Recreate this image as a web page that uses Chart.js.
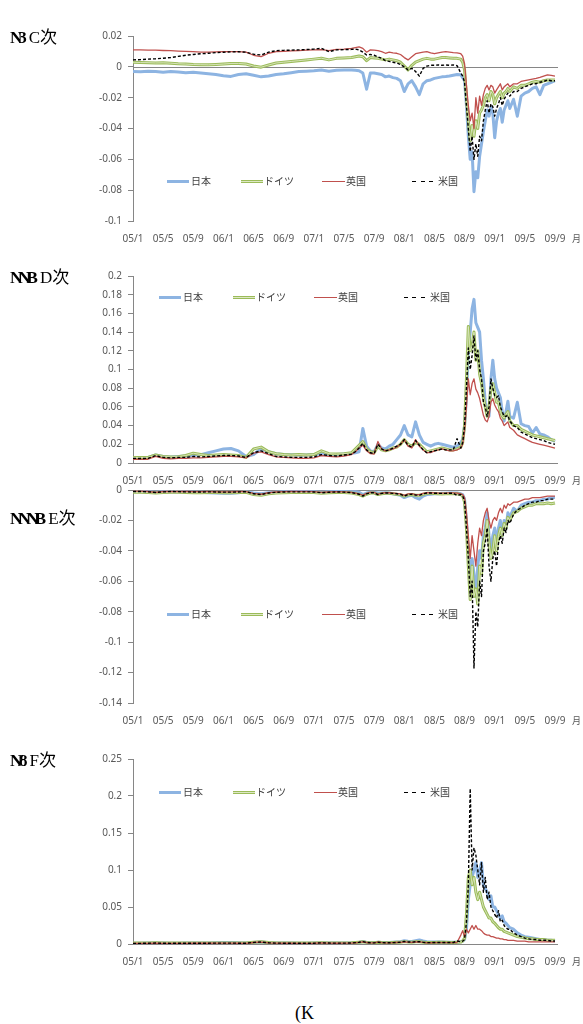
<!DOCTYPE html>
<html><head><meta charset="utf-8">
<script src="https://cdn.jsdelivr.net/npm/chart.js@4.4.1/dist/chart.umd.min.js"></script>
<style>
html,body{margin:0;padding:0;background:#fff;}
body{width:583px;height:1024px;overflow:hidden;position:relative;font-family:"Noto Sans","Noto Sans CJK JP",sans-serif;}
.cv{position:absolute;left:0;}
.title{position:absolute;left:10px;font-family:"Liberation Serif","Noto Sans CJK JP",serif;font-size:17px;color:#000;line-height:1;white-space:nowrap;}
.title .g{font-weight:bold;letter-spacing:-4px;margin-right:6px;}
.mon{position:absolute;left:572px;font-size:9px;color:#595959;font-family:"Noto Sans CJK JP",sans-serif;line-height:1;}
.legtxt{position:absolute;font-size:10px;color:#404040;font-family:"Noto Sans CJK JP",sans-serif;line-height:1;white-space:nowrap;}
.legline{position:absolute;}
.foot{position:absolute;left:295px;top:1004px;font-family:"Liberation Serif",serif;font-size:18px;color:#000;line-height:1;}
</style>
</head><body>
<script>
// ---------- categories / tick labels ----------
const tickLabels = ['05/1','05/5','05/9','06/1','06/5','06/9','07/1','07/5','07/9','08/1','08/5','08/9','09/1','09/5','09/9'];
const seriesNames = ['日本','ドイツ','英国','米国'];
const panelTitles = [['N3','C次'],['NNB','D次'],['NNNB','E次'],['N/8','F次']];
// month index (0 = 2005/1)
const months = [
0,1,2,3,4,5,6,7,8,9,10,11,12,13,14,15,16,17,18,19,20,21,22,23,24,25,26,27,28,29,
29.5,30,30.5,31,31.5,32,32.5,33,33.5,34,34.5,35,35.5,36,36.5,37,37.5,38,38.5,39,39.5,40,40.5,41,41.5,42,42.5,43,43.5,
43.75,44,44.25,44.5,44.75,45,45.25,45.5,45.75,46,46.25,46.5,46.75,47,47.25,47.5,47.75,48,48.25,48.5,48.75,49,49.25,49.5,49.75,50,
50.5,51,51.5,52,52.5,53,53.5,54,54.5,55,55.5,56];

// ---------- panel 1 ----------
const p1Japan = [
-0.003,-0.0032,-0.0028,-0.003,-0.0035,-0.003,-0.0033,-0.0038,-0.0035,-0.004,-0.0045,-0.005,-0.0058,-0.0062,-0.005,-0.0045,-0.0055,-0.0065,-0.006,-0.005,-0.0045,-0.0038,-0.003,-0.0028,-0.0025,-0.002,-0.0028,-0.0022,-0.002,-0.002,
-0.0022,-0.0025,-0.004,-0.0145,-0.004,-0.004,-0.0045,-0.005,-0.0065,-0.006,-0.007,-0.0075,-0.009,-0.016,-0.011,-0.009,-0.013,-0.018,-0.011,-0.009,-0.0085,-0.0075,-0.007,-0.0065,-0.0063,-0.006,-0.0055,-0.005,-0.0052,
-0.007,-0.009,-0.025,-0.045,-0.06,-0.055,-0.081,-0.068,-0.072,-0.058,-0.05,-0.042,-0.035,-0.028,-0.032,-0.026,-0.03,-0.046,-0.035,-0.03,-0.027,-0.036,-0.028,-0.025,-0.022,-0.027,
-0.021,-0.032,-0.019,-0.017,-0.016,-0.014,-0.013,-0.018,-0.012,-0.011,-0.01,-0.009];
const p1Germany = [
0.003,0.0028,0.0027,0.0025,0.0026,0.0024,0.002,0.0018,0.0015,0.0014,0.0013,0.0015,0.0018,0.0022,0.0022,0.0018,0.0005,-0.0002,0.0012,0.0025,0.003,0.0035,0.004,0.0045,0.005,0.0056,0.0045,0.0055,0.0058,0.006,
0.0065,0.007,0.0065,0.004,0.006,0.0058,0.0055,0.005,0.0045,0.005,0.0045,0.004,0.003,0.0005,-0.002,0.001,0.003,0.004,0.005,0.0055,0.005,0.005,0.0055,0.006,0.006,0.0058,0.0056,0.0055,0.005,
0.003,-0.002,-0.02,-0.035,-0.048,-0.038,-0.045,-0.035,-0.04,-0.03,-0.028,-0.025,-0.02,-0.018,-0.022,-0.016,-0.018,-0.024,-0.02,-0.018,-0.016,-0.02,-0.017,-0.016,-0.014,-0.016,
-0.013,-0.014,-0.012,-0.012,-0.011,-0.01,-0.0095,-0.01,-0.009,-0.0085,-0.0085,-0.0085];
const p1UK = [
0.011,0.011,0.0108,0.0108,0.0106,0.0105,0.0102,0.01,0.0098,0.0096,0.0095,0.0097,0.0098,0.0099,0.0098,0.0095,0.0075,0.0066,0.0088,0.0098,0.01,0.0103,0.0105,0.0108,0.011,0.0112,0.0105,0.0113,0.0115,0.012,
0.0125,0.013,0.012,0.0095,0.011,0.0108,0.0105,0.0098,0.0088,0.0095,0.009,0.0088,0.008,0.006,0.0045,0.0065,0.0085,0.009,0.0095,0.0098,0.009,0.0085,0.009,0.0095,0.0098,0.0095,0.0092,0.009,0.0085,
0.007,0.002,-0.012,-0.025,-0.035,-0.03,-0.04,-0.02,-0.03,-0.019,-0.025,-0.018,-0.014,-0.012,-0.015,-0.012,-0.013,-0.017,-0.015,-0.013,-0.011,-0.015,-0.013,-0.012,-0.011,-0.013,
-0.011,-0.011,-0.0095,-0.009,-0.0085,-0.008,-0.0075,-0.0068,-0.006,-0.0052,-0.0055,-0.006];
const p1US = [
0.0045,0.0047,0.005,0.0052,0.0056,0.006,0.0068,0.0075,0.008,0.0085,0.0088,0.0092,0.0095,0.0097,0.0098,0.0095,0.0082,0.0077,0.0095,0.0105,0.0107,0.0108,0.011,0.0112,0.0115,0.012,0.0098,0.011,0.0112,0.0113,
0.0115,0.011,0.0095,0.0077,0.008,0.0075,0.0065,0.0055,0.004,0.0035,0.003,0.0025,0.0015,0,-0.002,-0.001,-0.003,-0.006,-0.001,0.0005,0.001,0.001,0.0012,0.001,0.0012,0.001,0.0012,0.0008,-0.004,
-0.006,-0.01,-0.025,-0.04,-0.055,-0.045,-0.06,-0.05,-0.058,-0.045,-0.048,-0.035,-0.028,-0.022,-0.03,-0.024,-0.026,-0.032,-0.027,-0.024,-0.02,-0.025,-0.021,-0.019,-0.017,-0.019,
-0.016,-0.016,-0.014,-0.013,-0.012,-0.011,-0.011,-0.01,-0.0095,-0.0085,-0.009,-0.009];

// ---------- panel 2 ----------
const p2Japan = [
0.006,0.0055,0.006,0.0085,0.007,0.0065,0.007,0.0075,0.008,0.009,0.011,0.013,0.015,0.0155,0.013,0.007,0.009,0.0155,0.012,0.01,0.009,0.0088,0.0085,0.0085,0.009,0.01,0.009,0.0092,0.0095,0.0105,
0.011,0.012,0.037,0.018,0.013,0.012,0.02,0.016,0.015,0.018,0.02,0.025,0.03,0.04,0.03,0.028,0.044,0.03,0.022,0.02,0.018,0.02,0.021,0.02,0.019,0.018,0.017,0.018,0.022,
0.025,0.04,0.07,0.12,0.14,0.165,0.175,0.15,0.145,0.14,0.11,0.09,0.065,0.055,0.05,0.09,0.11,0.09,0.08,0.075,0.07,0.055,0.045,0.055,0.066,0.05,
0.048,0.065,0.042,0.04,0.039,0.032,0.038,0.031,0.03,0.028,0.025,0.023];
const p2Germany = [
0.006,0.0058,0.006,0.0085,0.007,0.0065,0.0068,0.008,0.0105,0.009,0.008,0.0085,0.009,0.0085,0.008,0.006,0.015,0.017,0.012,0.01,0.009,0.0085,0.009,0.0085,0.009,0.013,0.01,0.0095,0.01,0.011,
0.015,0.019,0.023,0.015,0.012,0.011,0.018,0.014,0.013,0.014,0.016,0.017,0.02,0.025,0.02,0.018,0.022,0.02,0.016,0.012,0.013,0.014,0.015,0.016,0.015,0.014,0.014,0.015,0.017,
0.022,0.04,0.09,0.146,0.12,0.125,0.14,0.11,0.12,0.095,0.085,0.07,0.06,0.05,0.06,0.08,0.085,0.075,0.065,0.065,0.055,0.05,0.048,0.052,0.055,0.045,
0.04,0.04,0.036,0.034,0.032,0.03,0.029,0.028,0.027,0.026,0.025,0.024];
const p2UK = [
0.004,0.0038,0.004,0.007,0.005,0.0045,0.005,0.005,0.0055,0.0055,0.006,0.0065,0.007,0.007,0.0065,0.0055,0.0105,0.012,0.009,0.0065,0.006,0.0055,0.005,0.005,0.0055,0.008,0.007,0.0065,0.0075,0.009,
0.012,0.016,0.019,0.013,0.01,0.0095,0.023,0.015,0.013,0.014,0.015,0.017,0.02,0.025,0.018,0.016,0.025,0.018,0.014,0.011,0.011,0.013,0.014,0.015,0.014,0.013,0.013,0.014,0.016,
0.02,0.035,0.06,0.09,0.073,0.085,0.09,0.079,0.075,0.069,0.06,0.051,0.046,0.044,0.05,0.065,0.069,0.062,0.058,0.055,0.048,0.045,0.04,0.042,0.044,0.038,
0.035,0.03,0.028,0.026,0.024,0.022,0.021,0.02,0.019,0.018,0.017,0.016];
const p2US = [
0.005,0.0048,0.005,0.008,0.006,0.0055,0.006,0.006,0.007,0.0065,0.007,0.0075,0.008,0.008,0.0075,0.006,0.011,0.013,0.01,0.007,0.0065,0.006,0.006,0.006,0.0065,0.009,0.008,0.0075,0.0085,0.0095,
0.012,0.016,0.021,0.014,0.011,0.01,0.02,0.015,0.013,0.014,0.016,0.018,0.02,0.025,0.019,0.017,0.024,0.019,0.014,0.011,0.012,0.013,0.014,0.015,0.014,0.014,0.014,0.026,0.016,
0.022,0.04,0.08,0.123,0.1,0.115,0.136,0.11,0.12,0.1,0.09,0.065,0.06,0.05,0.06,0.09,0.08,0.072,0.07,0.072,0.06,0.055,0.05,0.05,0.051,0.045,
0.04,0.038,0.033,0.031,0.029,0.027,0.026,0.025,0.024,0.022,0.021,0.02];

// ---------- panel 3 ----------
const p3Japan = [
-0.001,-0.001,-0.0012,-0.0015,-0.0012,-0.001,-0.0012,-0.0013,-0.0015,-0.0015,-0.0018,-0.002,-0.0022,-0.0022,-0.0018,-0.0012,-0.002,-0.0025,-0.0018,-0.0015,-0.0012,-0.0012,-0.001,-0.001,-0.0012,-0.0015,-0.0012,-0.001,-0.001,-0.0012,
-0.0012,-0.0015,-0.003,-0.002,-0.0015,-0.0015,-0.002,-0.002,-0.0018,-0.002,-0.0025,-0.003,-0.0035,-0.005,-0.004,-0.0035,-0.005,-0.006,-0.004,-0.003,-0.0028,-0.0025,-0.0025,-0.0022,-0.0022,-0.002,-0.002,-0.002,-0.0025,
-0.003,-0.006,-0.02,-0.04,-0.06,-0.045,-0.055,-0.07,-0.05,-0.04,-0.045,-0.03,-0.025,-0.015,-0.03,-0.04,-0.03,-0.025,-0.035,-0.025,-0.02,-0.03,-0.02,-0.025,-0.015,-0.018,
-0.012,-0.014,-0.01,-0.009,-0.008,-0.008,-0.007,-0.007,-0.006,-0.006,-0.005,-0.005];
const p3Germany = [
-0.0015,-0.0015,-0.0017,-0.002,-0.0017,-0.0015,-0.0015,-0.0016,-0.0018,-0.0018,-0.0016,-0.0017,-0.0018,-0.0018,-0.0017,-0.0015,-0.003,-0.0035,-0.0025,-0.002,-0.0018,-0.0017,-0.0016,-0.0016,-0.0017,-0.0022,-0.0018,-0.0016,-0.0017,-0.002,
-0.0025,-0.003,-0.004,-0.0028,-0.002,-0.002,-0.003,-0.0025,-0.0022,-0.0022,-0.0025,-0.0028,-0.003,-0.004,-0.0032,-0.003,-0.0035,-0.0035,-0.0028,-0.0022,-0.0022,-0.0023,-0.0025,-0.0026,-0.0025,-0.0024,-0.0024,-0.0025,-0.003,
-0.004,-0.008,-0.025,-0.05,-0.072,-0.05,-0.07,-0.065,-0.075,-0.05,-0.055,-0.035,-0.03,-0.02,-0.035,-0.045,-0.04,-0.03,-0.04,-0.03,-0.025,-0.03,-0.022,-0.025,-0.018,-0.02,
-0.015,-0.014,-0.012,-0.011,-0.01,-0.01,-0.009,-0.009,-0.009,-0.0085,-0.009,-0.0085];
const p3UK = [
-0.0008,-0.0008,-0.001,-0.0015,-0.001,-0.0009,-0.001,-0.001,-0.0011,-0.0011,-0.0011,-0.0012,-0.0012,-0.0012,-0.0011,-0.001,-0.0022,-0.0028,-0.0018,-0.0013,-0.0011,-0.001,-0.001,-0.001,-0.0011,-0.0016,-0.0013,-0.0011,-0.0012,-0.0015,
-0.002,-0.0025,-0.0035,-0.0022,-0.0016,-0.0016,-0.0028,-0.002,-0.0018,-0.0018,-0.002,-0.0022,-0.0025,-0.0035,-0.0026,-0.0024,-0.003,-0.003,-0.0022,-0.0018,-0.0018,-0.0019,-0.002,-0.002,-0.002,-0.0019,-0.0019,-0.002,-0.0025,
-0.003,-0.005,-0.015,-0.03,-0.045,-0.03,-0.04,-0.05,-0.035,-0.025,-0.03,-0.02,-0.015,-0.012,-0.02,-0.025,-0.02,-0.018,-0.02,-0.015,-0.012,-0.015,-0.01,-0.012,-0.009,-0.01,
-0.008,-0.008,-0.007,-0.006,-0.006,-0.005,-0.005,-0.005,-0.0045,-0.004,-0.004,-0.004];
const p3US = [
-0.001,-0.001,-0.0012,-0.0016,-0.0012,-0.001,-0.0011,-0.0012,-0.0013,-0.0013,-0.0012,-0.0013,-0.0014,-0.0014,-0.0013,-0.0011,-0.0025,-0.003,-0.002,-0.0015,-0.0013,-0.0012,-0.0012,-0.0012,-0.0013,-0.0018,-0.0015,-0.0013,-0.0014,-0.0017,
-0.0022,-0.0028,-0.004,-0.0025,-0.0018,-0.0018,-0.003,-0.0022,-0.002,-0.002,-0.0022,-0.0025,-0.0028,-0.004,-0.003,-0.0027,-0.0033,-0.0035,-0.0025,-0.002,-0.002,-0.0021,-0.0022,-0.0022,-0.0022,-0.0021,-0.0021,-0.0035,-0.003,
-0.004,-0.007,-0.025,-0.045,-0.07,-0.06,-0.117,-0.08,-0.09,-0.06,-0.07,-0.04,-0.035,-0.025,-0.05,-0.06,-0.045,-0.04,-0.05,-0.035,-0.03,-0.035,-0.025,-0.028,-0.02,-0.022,
-0.016,-0.013,-0.012,-0.01,-0.009,-0.008,-0.008,-0.007,-0.007,-0.006,-0.006,-0.006];

// ---------- panel 4 ----------
const p4Japan = [
0.001,0.001,0.0012,0.0015,0.0012,0.001,0.0011,0.0012,0.0013,0.0014,0.0015,0.0017,0.0019,0.002,0.0016,0.0012,0.002,0.0028,0.0018,0.0014,0.0012,0.0012,0.0011,0.0011,0.0012,0.0015,0.0013,0.0012,0.0012,0.0014,
0.0016,0.002,0.0035,0.0022,0.0017,0.0016,0.0025,0.002,0.0019,0.002,0.0024,0.0028,0.0032,0.0045,0.0038,0.0034,0.0045,0.0055,0.004,0.003,0.0028,0.0028,0.0027,0.0026,0.0025,0.0024,0.0024,0.0025,0.003,
0.004,0.006,0.02,0.06,0.08,0.09,0.1,0.11,0.09,0.1,0.11,0.08,0.075,0.07,0.06,0.065,0.05,0.05,0.045,0.04,0.035,0.038,0.03,0.028,0.025,0.022,
0.02,0.015,0.012,0.01,0.009,0.008,0.007,0.006,0.006,0.005,0.005,0.004];
const p4Germany = [
0.0012,0.0012,0.0013,0.0016,0.0013,0.0012,0.0012,0.0013,0.0015,0.0014,0.0013,0.0014,0.0015,0.0015,0.0014,0.0012,0.0025,0.003,0.002,0.0015,0.0013,0.0013,0.0012,0.0012,0.0013,0.0018,0.0015,0.0013,0.0014,0.0016,
0.002,0.0025,0.003,0.0022,0.0017,0.0016,0.0022,0.0019,0.0018,0.0018,0.002,0.0022,0.0025,0.0032,0.0027,0.0025,0.0029,0.003,0.0025,0.002,0.002,0.0021,0.0022,0.0022,0.0022,0.0021,0.0021,0.0022,0.0026,
0.004,0.008,0.04,0.09,0.1,0.08,0.09,0.07,0.06,0.07,0.06,0.05,0.045,0.04,0.035,0.035,0.03,0.028,0.025,0.022,0.02,0.02,0.017,0.016,0.015,0.014,
0.012,0.01,0.009,0.008,0.007,0.007,0.006,0.006,0.006,0.005,0.005,0.005];
const p4UK = [
0.0008,0.0008,0.0009,0.0012,0.0009,0.0008,0.0009,0.0009,0.001,0.001,0.001,0.0011,0.0011,0.0011,0.001,0.0009,0.002,0.0025,0.0016,0.0011,0.001,0.001,0.0009,0.0009,0.001,0.0014,0.0012,0.001,0.0011,0.0013,
0.0017,0.0022,0.003,0.002,0.0015,0.0014,0.0024,0.0018,0.0016,0.0016,0.0018,0.002,0.0022,0.003,0.0024,0.0022,0.0027,0.0028,0.0021,0.0017,0.0017,0.0018,0.0018,0.0019,0.0019,0.0018,0.0018,0.002,0.012,
0.018,0.01,0.02,0.015,0.02,0.025,0.02,0.025,0.02,0.02,0.018,0.015,0.013,0.012,0.012,0.01,0.01,0.009,0.008,0.008,0.007,0.007,0.006,0.006,0.005,0.005,
0.005,0.004,0.004,0.004,0.003,0.003,0.003,0.003,0.003,0.003,0.003,0.003];
const p4US = [
0.0009,0.0009,0.001,0.0013,0.001,0.0009,0.001,0.001,0.0011,0.0011,0.0011,0.0012,0.0012,0.0012,0.0011,0.001,0.0022,0.0027,0.0017,0.0012,0.0011,0.0011,0.001,0.001,0.0011,0.0015,0.0013,0.0011,0.0012,0.0014,
0.0018,0.0023,0.0032,0.0021,0.0016,0.0015,0.0024,0.0019,0.0017,0.0017,0.0019,0.0021,0.0024,0.0035,0.0028,0.0025,0.003,0.0032,0.0024,0.0019,0.0019,0.002,0.002,0.002,0.002,0.002,0.002,0.004,0.003,
0.004,0.006,0.03,0.08,0.21,0.1,0.13,0.12,0.1,0.08,0.11,0.07,0.09,0.06,0.07,0.05,0.045,0.04,0.035,0.045,0.03,0.032,0.025,0.022,0.02,0.02,
0.015,0.012,0.01,0.008,0.007,0.006,0.006,0.005,0.005,0.005,0.004,0.004];

// ---------- layout / styles ----------
const panels = [
  {series:[p1Japan,p1Germany,p1UK,p1US], min:-0.1, max:0.02, step:0.02, plotTop:34, plotBottom:221, titleTop:29, legendY:181, legendShift:0},
  {series:[p2Japan,p2Germany,p2UK,p2US], min:0, max:0.2, step:0.02, plotTop:274, plotBottom:463, titleTop:269, legendY:297, legendShift:-8},
  {series:[p3Japan,p3Germany,p3UK,p3US], min:-0.14, max:0, step:0.02, plotTop:488, plotBottom:703, titleTop:510, legendY:614, legendShift:0},
  {series:[p4Japan,p4Germany,p4UK,p4US], min:0, max:0.25, step:0.05, plotTop:757, plotBottom:944, titleTop:752, legendY:792, legendShift:-8}
];
const AXIS_H = 30, PAD_TOP = 10;
const axisColor = '#868686', labelColor = '#595959';

const zeroLine = {
  id:'zeroLine',
  beforeDatasetsDraw(chart){
    const y = Math.round(chart.scales.y.getPixelForValue(0)) + 0.5;
    const a = chart.chartArea, c = chart.ctx;
    c.save(); c.strokeStyle = axisColor; c.lineWidth = 1;
    c.beginPath(); c.moveTo(a.left, y); c.lineTo(a.right, y); c.stroke(); c.restore();
  }
};

function toXY(vals){ return months.map((m,i)=>({x:m, y:vals[i]})); }

function addText(cls, txt, left, top){
  const d = document.createElement('div'); d.className = cls; d.textContent = txt;
  d.style.left = left + 'px'; d.style.top = top + 'px'; document.body.appendChild(d); return d;
}
function addLine(left, top, width, css){
  const d = document.createElement('div'); d.className = 'legline';
  d.style.left = left+'px'; d.style.top = top+'px'; d.style.width = width+'px';
  Object.assign(d.style, css); document.body.appendChild(d); return d;
}

panels.forEach((p, k) => {
  const H = (p.plotBottom - p.plotTop) + PAD_TOP + AXIS_H;
  const wrap = document.createElement('div');
  wrap.className = 'cv'; wrap.style.top = (p.plotTop - PAD_TOP) + 'px';
  wrap.style.width = '583px'; wrap.style.height = H + 'px';
  const cv = document.createElement('canvas'); cv.width = 583; cv.height = H;
  cv.style.width = '583px'; cv.style.height = H + 'px';
  wrap.appendChild(cv); document.body.appendChild(wrap);

  const [jp, de, uk, us] = p.series;
  new Chart(cv, {
    type:'line',
    data:{ datasets:[
      {label:seriesNames[3], data:toXY(us), borderColor:'#000000', borderWidth:1.4, borderDash:[3,2], order:0},
      {label:seriesNames[2], data:toXY(uk), borderColor:'#C0504D', borderWidth:1.3, order:1},
      {label:seriesNames[1]+'_inner', data:toXY(de), borderColor:'#DDE8C4', borderWidth:0.9, order:2},
      {label:seriesNames[1], data:toXY(de), borderColor:'#9BBB59', borderWidth:3, order:3},
      {label:seriesNames[0], data:toXY(jp), borderColor:'#8DB4E2', borderWidth:3, order:4}
    ]},
    options:{
      responsive:false, animation:false, devicePixelRatio:1,
      layout:{padding:{top:PAD_TOP, right:25, left:0, bottom:0}},
      elements:{point:{radius:0}, line:{tension:0, borderJoinStyle:'round'}},
      plugins:{legend:{display:false}, tooltip:{enabled:false}},
      scales:{
        x:{type:'linear', min:0, max:56.4,
           grid:{display:false, drawTicks:false}, border:{display:false},
           afterFit(s){ s.height = AXIS_H; },
           ticks:{stepSize:4, includeBounds:false, autoSkip:false, maxRotation:0, padding:12,
             color:labelColor, font:{family:'Noto Sans', size:10},
             callback:(v)=>{ const i = Math.round(v/4); return (Math.abs(v - i*4) < 1e-6 && tickLabels[i]) ? tickLabels[i] : ''; }}},
        y:{min:p.min, max:p.max,
           afterFit(s){ s.width = 133; },
           grid:{drawOnChartArea:false, drawTicks:true, tickLength:5, color:axisColor},
           border:{display:true, color:axisColor},
           ticks:{stepSize:p.step, padding:6, color:labelColor, font:{family:'Noto Sans', size:10},
             callback:(v)=> String(+(+v).toFixed(3))}}
      }
    },
    plugins:[zeroLine]
  });

  // title
  const t = document.createElement('div'); t.className = 'title';
  t.style.top = p.titleTop + 'px';
  const g = document.createElement('span'); g.className = 'g'; g.textContent = panelTitles[k][0];
  t.appendChild(g); t.appendChild(document.createTextNode(panelTitles[k][1]));
  document.body.appendChild(t);

  // month unit label
  addText('mon', '月', 572, p.plotBottom + 13);

  // legend
  const s = p.legendShift, ly = p.legendY;
  addLine(167+s, ly-1, 22, {height:'3px', background:'#8DB4E2'});
  addText('legtxt', seriesNames[0], 191+s, ly-5);
  addLine(241+s, ly-1, 22, {height:'3px', background:'#9BBB59'});
  addLine(241+s, ly, 22, {height:'1px', background:'#DDE8C4'});
  addText('legtxt', seriesNames[1], 264+s, ly-5);
  addLine(322+s, ly, 23, {height:'1px', background:'#C0504D'});
  addText('legtxt', seriesNames[2], 346+s, ly-5);
  addLine(412+s, ly, 21, {height:'1px', background:'repeating-linear-gradient(to right,#000 0 4px,transparent 4px 8.5px)'});
  addText('legtxt', seriesNames[3], 438+s, ly-5);
});

const f = document.createElement('div'); f.className = 'foot'; f.textContent = '(K'; document.body.appendChild(f);
</script>
</body></html>
